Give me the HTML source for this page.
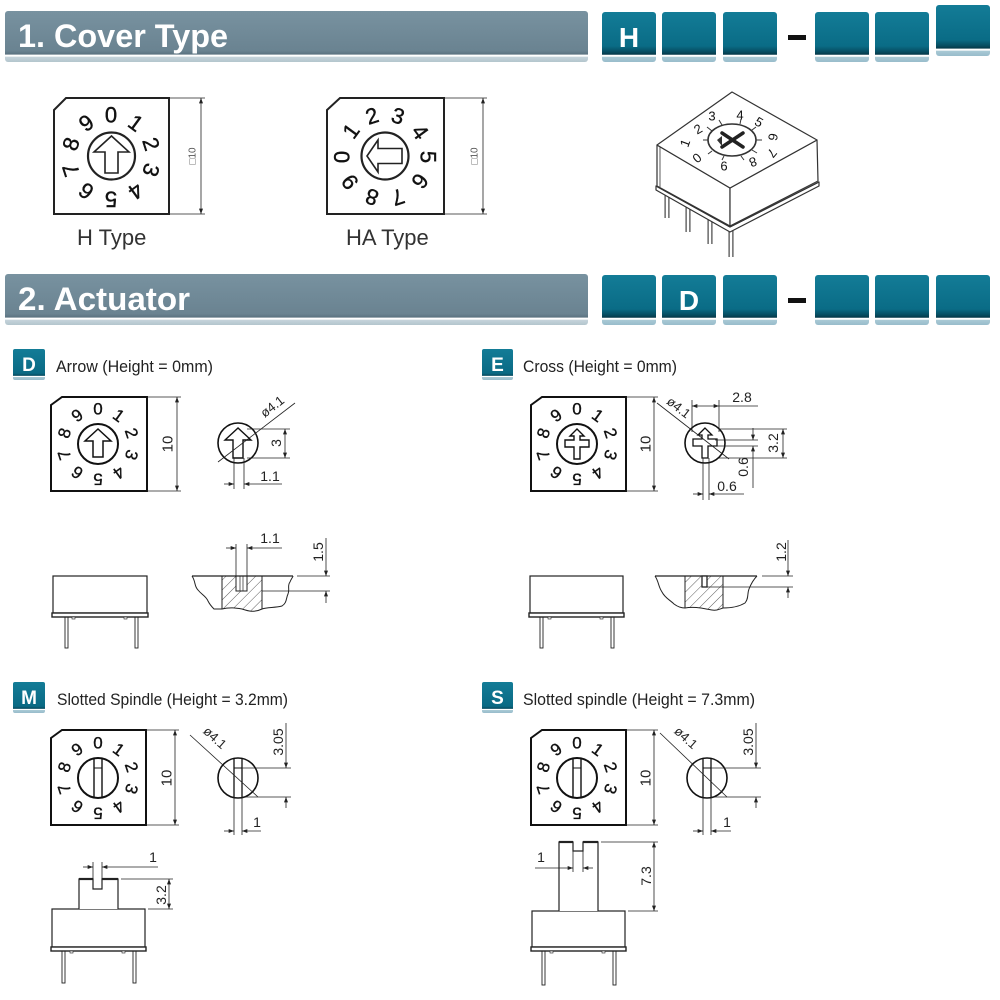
<!DOCTYPE html>
<html><head><meta charset="utf-8">
<style>
html,body{margin:0;padding:0;background:#fff;}
svg{display:block;}
text{font-family:"Liberation Sans",sans-serif;}
</style></head><body>
<svg width="1000" height="1000" viewBox="0 0 1000 1000" xmlns="http://www.w3.org/2000/svg">
<defs>
<linearGradient id="bar" x1="0" y1="0" x2="0" y2="1">
 <stop offset="0" stop-color="#7892a0"/><stop offset="0.78" stop-color="#6a8391"/><stop offset="0.85" stop-color="#5b7280"/>
 <stop offset="0.86" stop-color="#ffffff"/><stop offset="0.89" stop-color="#ffffff"/><stop offset="0.9" stop-color="#c6d4db"/><stop offset="1" stop-color="#b3c5cd"/>
</linearGradient>
<linearGradient id="box" x1="0" y1="0" x2="0" y2="1">
 <stop offset="0" stop-color="#137c97"/><stop offset="0.68" stop-color="#0a6c86"/><stop offset="0.8" stop-color="#064c60"/><stop offset="0.85" stop-color="#053848"/>
 <stop offset="0.86" stop-color="#ffffff"/><stop offset="0.89" stop-color="#ffffff"/><stop offset="0.9" stop-color="#a9c9d5"/><stop offset="1" stop-color="#98bccb"/>
</linearGradient>
<linearGradient id="badge" x1="0" y1="0" x2="0" y2="1">
 <stop offset="0" stop-color="#137c97"/><stop offset="0.78" stop-color="#0a6a84"/><stop offset="0.86" stop-color="#064a5e"/>
 <stop offset="0.87" stop-color="#ffffff"/><stop offset="0.9" stop-color="#ffffff"/><stop offset="0.91" stop-color="#a9c9d5"/><stop offset="1" stop-color="#98bccb"/>
</linearGradient>
<pattern id="hatch" width="7" height="7" patternUnits="userSpaceOnUse" patternTransform="rotate(45)">
 <line x1="0" y1="0" x2="0" y2="7" stroke="#333" stroke-width="0.8"/>
</pattern>
<marker id="ar" viewBox="0 0 8 6" refX="8" refY="3" markerWidth="7" markerHeight="4" orient="auto-start-reverse" markerUnits="userSpaceOnUse">
 <path d="M0,0 L8,3 L0,6 Z" fill="#222"/>
</marker>
</defs>

<!-- ========== HEADER 1 ========== -->
<rect x="5" y="11" width="583" height="51" rx="3" fill="url(#bar)"/>
<text x="18" y="47" font-size="32" font-weight="bold" fill="#fff" textLength="210" lengthAdjust="spacingAndGlyphs">1. Cover Type</text>
<rect x="602" y="12" width="54" height="50" rx="3" fill="url(#box)"/>
<rect x="662" y="12" width="54" height="50" rx="3" fill="url(#box)"/>
<rect x="723" y="12" width="54" height="50" rx="3" fill="url(#box)"/>
<rect x="788" y="35" width="18" height="5" fill="#111"/>
<rect x="815" y="12" width="54" height="50" rx="3" fill="url(#box)"/>
<rect x="875" y="12" width="54" height="50" rx="3" fill="url(#box)"/>
<rect x="936" y="5" width="54" height="51" rx="3" fill="url(#box)"/>
<text x="629" y="47" font-size="28" font-weight="bold" fill="#fff" text-anchor="middle">H</text>

<!-- ========== HEADER 2 ========== -->
<rect x="5" y="274" width="583" height="51" rx="3" fill="url(#bar)"/>
<text x="18" y="310" font-size="32" font-weight="bold" fill="#fff" textLength="172" lengthAdjust="spacingAndGlyphs">2. Actuator</text>
<rect x="602" y="275" width="54" height="50" rx="3" fill="url(#box)"/>
<rect x="662" y="275" width="54" height="50" rx="3" fill="url(#box)"/>
<rect x="723" y="275" width="54" height="50" rx="3" fill="url(#box)"/>
<rect x="788" y="298" width="18" height="5" fill="#111"/>
<rect x="815" y="275" width="54" height="50" rx="3" fill="url(#box)"/>
<rect x="875" y="275" width="54" height="50" rx="3" fill="url(#box)"/>
<rect x="936" y="275" width="54" height="50" rx="3" fill="url(#box)"/>
<text x="689" y="310" font-size="28" font-weight="bold" fill="#fff" text-anchor="middle">D</text>

<!-- ========== COVER TYPE: H ========== -->
<g fill="none" stroke="#222">
 <path d="M54,110 L66,98 L169,98 L169,214 L54,214 Z" stroke-width="2"/>
 <line x1="169" y1="98" x2="205" y2="98" stroke-width="0.7"/>
 <line x1="169" y1="214" x2="205" y2="214" stroke-width="0.7"/>
 <line x1="201" y1="98" x2="201" y2="214" stroke-width="0.8" marker-start="url(#ar)" marker-end="url(#ar)"/>
 <circle cx="111.5" cy="156" r="23.5" stroke-width="2.2"/>
 <path d="M111.5,136 L94,152 L105,152 L105,173 L118,173 L118,152 L129,152 Z" stroke-width="1.6"/>
</g>
<text x="193" y="156" font-size="10" fill="#555" text-anchor="middle" dominant-baseline="central" transform="rotate(-90 193 156)">□10</text>
<g font-size="22" fill="#111" stroke="#111" stroke-width="0.4" text-anchor="middle" dominant-baseline="central">
 <text x="111" y="115">0</text>
 <text x="135.7" y="123" transform="rotate(36 135.7 123)">1</text>
 <text x="151" y="144" transform="rotate(72 151 144)">2</text>
 <text x="151" y="170" transform="rotate(108 151 170)">3</text>
 <text x="135.7" y="191" transform="rotate(144 135.7 191)">4</text>
 <text x="111" y="199" transform="rotate(180 111 199)">5</text>
 <text x="86.3" y="191" transform="rotate(216 86.3 191)">6</text>
 <text x="71" y="170" transform="rotate(252 71 170)">7</text>
 <text x="71" y="144" transform="rotate(288 71 144)">8</text>
 <text x="86.3" y="123" transform="rotate(324 86.3 123)">9</text>
</g>
<text x="77" y="245" font-size="22" fill="#333">H Type</text>

<!-- ========== COVER TYPE: HA ========== -->
<g fill="none" stroke="#222">
 <path d="M327,110 L340,98 L444,98 L444,214 L327,214 Z" stroke-width="2"/>
 <line x1="444" y1="98" x2="487" y2="98" stroke-width="0.7"/>
 <line x1="444" y1="214" x2="487" y2="214" stroke-width="0.7"/>
 <line x1="483" y1="98" x2="483" y2="214" stroke-width="0.8" marker-start="url(#ar)" marker-end="url(#ar)"/>
 <circle cx="385" cy="156" r="23.5" stroke-width="2.2"/>
 <path d="M367,156 L378,140 L378,148.5 L402,148.5 L402,163.5 L378,163.5 L378,172 Z" stroke-width="1.6"/>
</g>
<text x="475" y="156" font-size="10" fill="#555" text-anchor="middle" dominant-baseline="central" transform="rotate(-90 475 156)">□10</text>
<g font-size="22" fill="#111" stroke="#111" stroke-width="0.4" text-anchor="middle" dominant-baseline="central">
 <text x="342" y="157" transform="rotate(-90 342 157)">0</text>
 <text x="351" y="131" transform="rotate(-54 351 131)">1</text>
 <text x="372" y="116" transform="rotate(-18 372 116)">2</text>
 <text x="398" y="116" transform="rotate(18 398 116)">3</text>
 <text x="420" y="132" transform="rotate(54 420 132)">4</text>
 <text x="428" y="157" transform="rotate(90 428 157)">5</text>
 <text x="420" y="181" transform="rotate(126 420 181)">6</text>
 <text x="398" y="197" transform="rotate(162 398 197)">7</text>
 <text x="372" y="197" transform="rotate(198 372 197)">8</text>
 <text x="350" y="182" transform="rotate(234 350 182)">9</text>
</g>
<text x="346" y="245" font-size="22" fill="#333">HA Type</text>

<!-- ========== 3D VIEW ========== -->
<g stroke="#333" stroke-width="1.2" fill="#fff" stroke-linejoin="round">
 <line x1="667" y1="190" x2="667" y2="218" stroke-width="5" stroke="#444"/>
 <line x1="667" y1="190" x2="667" y2="218" stroke-width="2.6" stroke="#fff"/>
 <line x1="688" y1="200" x2="688" y2="232" stroke-width="5" stroke="#444"/>
 <line x1="688" y1="200" x2="688" y2="232" stroke-width="2.6" stroke="#fff"/>
 <line x1="710" y1="214" x2="710" y2="244" stroke-width="5" stroke="#444"/>
 <line x1="710" y1="214" x2="710" y2="244" stroke-width="2.6" stroke="#fff"/>
 <line x1="731" y1="226" x2="731" y2="257" stroke-width="5" stroke="#444"/>
 <line x1="731" y1="226" x2="731" y2="257" stroke-width="2.6" stroke="#fff"/>
 <polygon points="656,186 730,227 819,182 819,186 730,232 656,190"/>
 <line x1="656" y1="186" x2="730" y2="227"/>
 <line x1="730" y1="227" x2="819" y2="182"/>
 <polygon points="657,145 730,188 730,226 657,186"/>
 <polygon points="730,188 817,140 818,181 730,226"/>
 <line x1="660" y1="147" x2="660" y2="187" stroke-width="0.8"/>
 <polygon points="732,92 817,140 730,188 657,145"/>
 <ellipse cx="732" cy="140" rx="24" ry="16" stroke-width="1.6"/>
</g>
<g stroke="#222" stroke-width="3.5" stroke-linecap="round">
 <line x1="722" y1="133" x2="743" y2="147"/>
 <line x1="743" y1="133" x2="722" y2="147"/>
</g>
<path d="M717,140 L722,136 L722,146 Z" fill="#333"/>
<g stroke="#333" stroke-width="1">
 <line x1="708" y1="140" x2="703" y2="140"/><line x1="712" y1="131" x2="707" y2="127"/>
 <line x1="722" y1="125" x2="719" y2="120"/><line x1="740" y1="124" x2="741" y2="119"/>
 <line x1="752" y1="130" x2="756" y2="127"/><line x1="756" y1="140" x2="762" y2="140"/>
 <line x1="752" y1="150" x2="757" y2="153"/><line x1="741" y1="156" x2="744" y2="160"/>
 <line x1="724" y1="156" x2="722" y2="160"/><line x1="712" y1="151" x2="708" y2="154"/>
</g>
<g font-size="13" fill="#111" text-anchor="middle" dominant-baseline="central">
 <text x="685" y="143" transform="rotate(-70 685 143)">1</text>
 <text x="698" y="129" transform="rotate(-30 698 129)">2</text>
 <text x="712" y="116">3</text>
 <text x="740" y="115">4</text>
 <text x="759" y="122" transform="rotate(30 759 122)">5</text>
 <text x="773" y="137" transform="rotate(100 773 137)">6</text>
 <text x="772" y="153" transform="rotate(130 772 153)">7</text>
 <text x="753" y="162" transform="rotate(160 753 162)">8</text>
 <text x="724" y="166">6</text>
 <text x="697" y="158" transform="rotate(-40 697 158)">0</text>
</g>

<!-- ========== BADGES + LABELS ========== -->
<rect x="13" y="349" width="32" height="31" rx="2" fill="url(#badge)"/>
<text x="29" y="371" font-size="19" font-weight="bold" fill="#fff" text-anchor="middle">D</text>
<text x="56" y="372" font-size="17" fill="#222" textLength="157" lengthAdjust="spacingAndGlyphs">Arrow (Height = 0mm)</text>

<rect x="482" y="349" width="31" height="31" rx="2" fill="url(#badge)"/>
<text x="497.5" y="371" font-size="19" font-weight="bold" fill="#fff" text-anchor="middle">E</text>
<text x="523" y="372" font-size="17" fill="#222" textLength="154" lengthAdjust="spacingAndGlyphs">Cross (Height = 0mm)</text>

<rect x="13" y="682" width="32" height="31" rx="2" fill="url(#badge)"/>
<text x="29" y="704" font-size="19" font-weight="bold" fill="#fff" text-anchor="middle">M</text>
<text x="57" y="705" font-size="17" fill="#222" textLength="231" lengthAdjust="spacingAndGlyphs">Slotted Spindle (Height = 3.2mm)</text>

<rect x="482" y="682" width="31" height="31" rx="2" fill="url(#badge)"/>
<text x="497.5" y="704" font-size="19" font-weight="bold" fill="#fff" text-anchor="middle">S</text>
<text x="523" y="705" font-size="17" fill="#222" textLength="232" lengthAdjust="spacingAndGlyphs">Slotted spindle (Height = 7.3mm)</text>

<!-- ========== DIAL: D ========== -->
<g transform="translate(98,444)">
 <g fill="none" stroke="#111">
  <path d="M-47,-39 L-36,-47 L49,-47 L49,47 L-47,47 Z" stroke-width="2"/>
  <circle r="20" stroke-width="2"/>
  <path d="M0,-15 L-13,-3 L-5,-3 L-5,13 L5,13 L5,-3 L13,-3 Z" stroke-width="1.5"/>
 </g>
 <g font-size="17" fill="#111" stroke="#111" stroke-width="0.35" text-anchor="middle" dominant-baseline="central">
  <text x="0" y="-35">0</text>
  <text x="20.6" y="-28.3" transform="rotate(36 20.6 -28.3)">1</text>
  <text x="33.3" y="-10.8" transform="rotate(72 33.3 -10.8)">2</text>
  <text x="33.3" y="10.8" transform="rotate(108 33.3 10.8)">3</text>
  <text x="20.6" y="28.3" transform="rotate(144 20.6 28.3)">4</text>
  <text x="0" y="35" transform="rotate(180 0 35)">5</text>
  <text x="-20.6" y="28.3" transform="rotate(216 -20.6 28.3)">6</text>
  <text x="-33.3" y="10.8" transform="rotate(252 -33.3 10.8)">7</text>
  <text x="-33.3" y="-10.8" transform="rotate(288 -33.3 -10.8)">8</text>
  <text x="-20.6" y="-28.3" transform="rotate(324 -20.6 -28.3)">9</text>
 </g>
</g>
<g stroke="#222" stroke-width="0.8">
 <line x1="147" y1="397" x2="181" y2="397"/><line x1="147" y1="491" x2="181" y2="491"/>
 <line x1="177" y1="397" x2="177" y2="491" marker-start="url(#ar)" marker-end="url(#ar)"/>
</g>
<text x="168" y="444" font-size="15" fill="#222" text-anchor="middle" dominant-baseline="central" transform="rotate(-90 168 444)">10</text>

<!-- D right view -->
<g fill="none" stroke="#111">
 <circle cx="238" cy="443" r="20" stroke-width="1.6"/>
 <path d="M238,428 L225,440 L233,440 L233,458 L243,458 L243,440 L251,440 Z" stroke-width="1.4"/>
</g>
<g stroke="#222" stroke-width="0.8" fill="none">
 <line x1="218" y1="462" x2="295" y2="403"/>
 <line x1="247" y1="429" x2="290" y2="429"/><line x1="247" y1="458" x2="290" y2="458"/>
 <line x1="285" y1="429" x2="285" y2="458" marker-start="url(#ar)" marker-end="url(#ar)"/>
 <line x1="234" y1="458" x2="234" y2="489"/><line x1="244" y1="458" x2="244" y2="489"/>
 <line x1="224" y1="484" x2="234" y2="484" marker-end="url(#ar)"/>
 <line x1="282" y1="484" x2="244" y2="484" marker-end="url(#ar)"/>
</g>
<text x="275" y="410" font-size="13" fill="#222" text-anchor="middle" transform="rotate(-38 275 410)">ø4.1</text>
<text x="276" y="443" font-size="14" fill="#222" text-anchor="middle" dominant-baseline="central" transform="rotate(-90 276 443)">3</text>
<text x="270" y="481" font-size="14" fill="#222" text-anchor="middle">1.1</text>

<!-- ========== DIAL: E ========== -->
<g transform="translate(577,444)">
 <g fill="none" stroke="#111">
  <path d="M-46,-39 L-35,-47 L49,-47 L49,47 L-46,47 Z" stroke-width="2"/>
  <circle r="20" stroke-width="2"/>
  <path d="M0,-15 L-7,-8 L-3,-8 L-3,-4 L-12,-4 L-12,3 L-3,3 L-3,15 L3,15 L3,3 L12,3 L12,-4 L3,-4 L3,-8 L7,-8 Z" stroke-width="1.4"/>
 </g>
 <g font-size="17" fill="#111" stroke="#111" stroke-width="0.35" text-anchor="middle" dominant-baseline="central">
  <text x="0" y="-35">0</text>
  <text x="20.6" y="-28.3" transform="rotate(36 20.6 -28.3)">1</text>
  <text x="33.3" y="-10.8" transform="rotate(72 33.3 -10.8)">2</text>
  <text x="33.3" y="10.8" transform="rotate(108 33.3 10.8)">3</text>
  <text x="20.6" y="28.3" transform="rotate(144 20.6 28.3)">4</text>
  <text x="0" y="35" transform="rotate(180 0 35)">5</text>
  <text x="-20.6" y="28.3" transform="rotate(216 -20.6 28.3)">6</text>
  <text x="-33.3" y="10.8" transform="rotate(252 -33.3 10.8)">7</text>
  <text x="-33.3" y="-10.8" transform="rotate(288 -33.3 -10.8)">8</text>
  <text x="-20.6" y="-28.3" transform="rotate(324 -20.6 -28.3)">9</text>
 </g>
</g>
<g stroke="#222" stroke-width="0.8">
 <line x1="626" y1="397" x2="658" y2="397"/><line x1="626" y1="491" x2="658" y2="491"/>
 <line x1="654" y1="397" x2="654" y2="491" marker-start="url(#ar)" marker-end="url(#ar)"/>
</g>
<text x="646" y="444" font-size="15" fill="#222" text-anchor="middle" dominant-baseline="central" transform="rotate(-90 646 444)">10</text>

<!-- E right view -->
<g fill="none" stroke="#111">
 <circle cx="705" cy="443" r="20" stroke-width="1.6"/>
 <path d="M705,428 L698,435 L702,435 L702,439 L693,439 L693,446 L702,446 L702,458 L708,458 L708,446 L717,446 L717,439 L708,439 L708,435 L712,435 Z" stroke-width="1.3"/>
</g>
<g stroke="#222" stroke-width="0.8" fill="none">
 <line x1="657" y1="403" x2="729" y2="459"/>
 <line x1="692" y1="400" x2="692" y2="432"/><line x1="719" y1="400" x2="719" y2="432"/>
 <line x1="692" y1="406" x2="719" y2="406" marker-start="url(#ar)" marker-end="url(#ar)"/>
 <line x1="719" y1="406" x2="758" y2="406"/>
 <line x1="719" y1="429" x2="787" y2="429"/><line x1="719" y1="458" x2="787" y2="458"/>
 <line x1="783" y1="429" x2="783" y2="458" marker-start="url(#ar)" marker-end="url(#ar)"/>
 <line x1="715" y1="440" x2="758" y2="440"/><line x1="715" y1="446" x2="758" y2="446"/>
 <line x1="753" y1="428" x2="753" y2="440" marker-end="url(#ar)"/>
 <line x1="753" y1="488" x2="753" y2="446" marker-end="url(#ar)"/>
 <line x1="703" y1="458" x2="703" y2="500"/><line x1="709" y1="458" x2="709" y2="500"/>
 <line x1="693" y1="494" x2="703" y2="494" marker-end="url(#ar)"/>
 <line x1="744" y1="494" x2="709" y2="494" marker-end="url(#ar)"/>
</g>
<text x="676" y="411" font-size="13" fill="#222" text-anchor="middle" transform="rotate(38 676 411)">ø4.1</text>
<text x="742" y="402" font-size="14" fill="#222" text-anchor="middle">2.8</text>
<text x="773" y="443" font-size="14" fill="#222" text-anchor="middle" dominant-baseline="central" transform="rotate(-90 773 443)">3.2</text>
<text x="743" y="467" font-size="14" fill="#222" text-anchor="middle" dominant-baseline="central" transform="rotate(-90 743 467)">0.6</text>
<text x="727" y="491" font-size="14" fill="#222" text-anchor="middle">0.6</text>

<!-- ========== D SIDE VIEWS ========== -->
<g fill="#fff" stroke="#222" stroke-width="1.2">
 <rect x="65" y="617" width="3" height="31" stroke-width="0.9"/>
 <rect x="135" y="617" width="3" height="31" stroke-width="0.9"/>
 <rect x="53" y="576" width="94" height="37"/>
 <rect x="52" y="613" width="96" height="4" stroke-width="1.4"/>
 <rect x="72" y="617" width="3" height="2" stroke-width="0.6"/>
 <rect x="124" y="617" width="3" height="2" stroke-width="0.6"/>
</g>
<!-- D cross-section -->
<path d="M222,576 L236,576 L236,591 L247,591 L247,576 L262,576 L262,609 C254,613 248,611 242,609 C236,608 230,607 222,609 Z" fill="url(#hatch)" stroke="none"/>
<g fill="none" stroke="#222" stroke-width="1">
 <line x1="192" y1="576" x2="293" y2="576" stroke-width="1.2"/>
 <path d="M192,576 C196,582 194,586 198,590 C202,595 206,596 208,601 C210,605 212,607 214,609 L222,609 C230,607 236,608 242,609 C248,611 254,613 262,609 C268,607 274,608 282,606 C287,603 286,598 288,594 C290,589 287,586 290,582 C291,579 293,577 293,576"/>
 <line x1="222" y1="576" x2="222" y2="609"/>
 <line x1="262" y1="576" x2="262" y2="609"/>
 <rect x="236" y="576" width="11" height="15"/>
 <line x1="240" y1="576" x2="240" y2="591" stroke-width="0.7"/>
 <line x1="243" y1="576" x2="243" y2="591" stroke-width="0.7"/>
</g>
<g stroke="#222" stroke-width="0.8" fill="none">
 <line x1="236" y1="544" x2="236" y2="576"/><line x1="247" y1="544" x2="247" y2="576"/>
 <line x1="226" y1="548" x2="236" y2="548" marker-end="url(#ar)"/>
 <line x1="282" y1="548" x2="247" y2="548" marker-end="url(#ar)"/>
 <line x1="297" y1="576" x2="330" y2="576"/>
 <line x1="262" y1="591" x2="330" y2="591"/>
 <line x1="326" y1="538" x2="326" y2="576" marker-end="url(#ar)"/>
 <line x1="326" y1="603" x2="326" y2="591" marker-end="url(#ar)"/>
</g>
<text x="270" y="543" font-size="14" fill="#222" text-anchor="middle">1.1</text>
<text x="318" y="552" font-size="14" fill="#222" text-anchor="middle" dominant-baseline="central" transform="rotate(-90 318 552)">1.5</text>

<!-- ========== E SIDE VIEWS ========== -->
<g fill="#fff" stroke="#222" stroke-width="1.2">
 <rect x="540" y="617" width="3" height="31" stroke-width="0.9"/>
 <rect x="611" y="617" width="3" height="31" stroke-width="0.9"/>
 <rect x="530" y="576" width="93" height="37"/>
 <rect x="529" y="613" width="95" height="4" stroke-width="1.4"/>
 <rect x="548" y="617" width="3" height="2" stroke-width="0.6"/>
 <rect x="600" y="617" width="3" height="2" stroke-width="0.6"/>
</g>
<path d="M685,576 L702,576 L702,587 L707,587 L707,576 L723,576 L723,608 C720,609 717,611 712,610 C705,609 695,606 685,608 Z" fill="url(#hatch)" stroke="none"/>
<g fill="none" stroke="#222" stroke-width="1">
 <line x1="655" y1="576" x2="757" y2="576" stroke-width="1.2"/>
 <path d="M655,576 C659,582 658,586 662,592 C665,598 670,600 674,604 C678,607 682,608 685,608 C695,606 705,609 712,610 C717,611 720,609 723,608 C732,608 740,606 745,603 C749,598 747,594 749,589 C751,584 753,580 757,576"/>
 <line x1="685" y1="576" x2="685" y2="608"/>
 <line x1="723" y1="576" x2="723" y2="608"/>
 <rect x="702" y="576" width="5" height="11" fill="#fff" stroke-width="1.3"/>
</g>
<g stroke="#222" stroke-width="0.8" fill="none">
 <line x1="762" y1="576" x2="793" y2="576"/>
 <line x1="707" y1="587" x2="793" y2="587"/>
 <line x1="788" y1="540" x2="788" y2="576" marker-end="url(#ar)"/>
 <line x1="788" y1="598" x2="788" y2="587" marker-end="url(#ar)"/>
</g>
<text x="781" y="552" font-size="14" fill="#222" text-anchor="middle" dominant-baseline="central" transform="rotate(-90 781 552)">1.2</text>

<!-- ========== DIAL: M ========== -->
<g transform="translate(98,778)">
 <g fill="none" stroke="#111">
  <path d="M-47,-40 L-36,-48 L48,-48 L48,47 L-47,47 Z" stroke-width="2"/>
  <circle r="20" stroke-width="2"/>
  <line x1="-4" y1="-19.5" x2="-4" y2="19.5" stroke-width="1.4"/>
  <line x1="4" y1="-19.5" x2="4" y2="19.5" stroke-width="1.4"/>
  <line x1="-4" y1="-10" x2="4" y2="-10" stroke-width="1"/>
 </g>
 <g font-size="17" fill="#111" stroke="#111" stroke-width="0.35" text-anchor="middle" dominant-baseline="central">
  <text x="0" y="-35">0</text>
  <text x="20.6" y="-28.3" transform="rotate(36 20.6 -28.3)">1</text>
  <text x="33.3" y="-10.8" transform="rotate(72 33.3 -10.8)">2</text>
  <text x="33.3" y="10.8" transform="rotate(108 33.3 10.8)">3</text>
  <text x="20.6" y="28.3" transform="rotate(144 20.6 28.3)">4</text>
  <text x="0" y="35" transform="rotate(180 0 35)">5</text>
  <text x="-20.6" y="28.3" transform="rotate(216 -20.6 28.3)">6</text>
  <text x="-33.3" y="10.8" transform="rotate(252 -33.3 10.8)">7</text>
  <text x="-33.3" y="-10.8" transform="rotate(288 -33.3 -10.8)">8</text>
  <text x="-20.6" y="-28.3" transform="rotate(324 -20.6 -28.3)">9</text>
 </g>
</g>
<g stroke="#222" stroke-width="0.8">
 <line x1="146" y1="730" x2="179" y2="730"/><line x1="146" y1="825" x2="179" y2="825"/>
 <line x1="175" y1="730" x2="175" y2="825" marker-start="url(#ar)" marker-end="url(#ar)"/>
</g>
<text x="167" y="778" font-size="15" fill="#222" text-anchor="middle" dominant-baseline="central" transform="rotate(-90 167 778)">10</text>

<!-- M right view -->
<g fill="none" stroke="#111">
 <circle cx="238" cy="778" r="20" stroke-width="1.6"/>
 <line x1="234" y1="759" x2="234" y2="797" stroke-width="1.3"/>
 <line x1="242" y1="759" x2="242" y2="797" stroke-width="1.3"/>
 <line x1="234" y1="768" x2="242" y2="768" stroke-width="1"/>
</g>
<g stroke="#222" stroke-width="0.8" fill="none">
 <line x1="190" y1="735" x2="258" y2="797"/>
 <line x1="242" y1="768" x2="291" y2="768"/><line x1="242" y1="797" x2="291" y2="797"/>
 <line x1="286" y1="723" x2="286" y2="768" marker-end="url(#ar)"/>
 <line x1="286" y1="808" x2="286" y2="797" marker-end="url(#ar)"/>
 <line x1="234" y1="797" x2="234" y2="835"/><line x1="242" y1="797" x2="242" y2="835"/>
 <line x1="224" y1="831" x2="234" y2="831" marker-end="url(#ar)"/>
 <line x1="261" y1="831" x2="242" y2="831" marker-end="url(#ar)"/>
</g>
<text x="212" y="741" font-size="13" fill="#222" text-anchor="middle" transform="rotate(42 212 741)">ø4.1</text>
<text x="278" y="742" font-size="14" fill="#222" text-anchor="middle" dominant-baseline="central" transform="rotate(-90 278 742)">3.05</text>
<text x="257" y="827" font-size="14" fill="#222" text-anchor="middle">1</text>

<!-- ========== DIAL: S ========== -->
<g transform="translate(577,778)">
 <g fill="none" stroke="#111">
  <path d="M-46,-40 L-35,-48 L49,-48 L49,47 L-46,47 Z" stroke-width="2"/>
  <circle r="20" stroke-width="2"/>
  <line x1="-4" y1="-19.5" x2="-4" y2="19.5" stroke-width="1.4"/>
  <line x1="4" y1="-19.5" x2="4" y2="19.5" stroke-width="1.4"/>
  <line x1="-4" y1="-10" x2="4" y2="-10" stroke-width="1"/>
 </g>
 <g font-size="17" fill="#111" stroke="#111" stroke-width="0.35" text-anchor="middle" dominant-baseline="central">
  <text x="0" y="-35">0</text>
  <text x="20.6" y="-28.3" transform="rotate(36 20.6 -28.3)">1</text>
  <text x="33.3" y="-10.8" transform="rotate(72 33.3 -10.8)">2</text>
  <text x="33.3" y="10.8" transform="rotate(108 33.3 10.8)">3</text>
  <text x="20.6" y="28.3" transform="rotate(144 20.6 28.3)">4</text>
  <text x="0" y="35" transform="rotate(180 0 35)">5</text>
  <text x="-20.6" y="28.3" transform="rotate(216 -20.6 28.3)">6</text>
  <text x="-33.3" y="10.8" transform="rotate(252 -33.3 10.8)">7</text>
  <text x="-33.3" y="-10.8" transform="rotate(288 -33.3 -10.8)">8</text>
  <text x="-20.6" y="-28.3" transform="rotate(324 -20.6 -28.3)">9</text>
 </g>
</g>
<g stroke="#222" stroke-width="0.8">
 <line x1="626" y1="730" x2="658" y2="730"/><line x1="626" y1="825" x2="658" y2="825"/>
 <line x1="654" y1="730" x2="654" y2="825" marker-start="url(#ar)" marker-end="url(#ar)"/>
</g>
<text x="646" y="778" font-size="15" fill="#222" text-anchor="middle" dominant-baseline="central" transform="rotate(-90 646 778)">10</text>

<!-- S right view -->
<g fill="none" stroke="#111">
 <circle cx="707" cy="778" r="20" stroke-width="1.6"/>
 <line x1="703" y1="759" x2="703" y2="797" stroke-width="1.3"/>
 <line x1="711" y1="759" x2="711" y2="797" stroke-width="1.3"/>
 <line x1="703" y1="768" x2="711" y2="768" stroke-width="1"/>
</g>
<g stroke="#222" stroke-width="0.8" fill="none">
 <line x1="660" y1="733" x2="727" y2="797"/>
 <line x1="711" y1="768" x2="761" y2="768"/><line x1="711" y1="797" x2="761" y2="797"/>
 <line x1="756" y1="723" x2="756" y2="768" marker-end="url(#ar)"/>
 <line x1="756" y1="808" x2="756" y2="797" marker-end="url(#ar)"/>
 <line x1="703" y1="797" x2="703" y2="835"/><line x1="711" y1="797" x2="711" y2="835"/>
 <line x1="693" y1="831" x2="703" y2="831" marker-end="url(#ar)"/>
 <line x1="731" y1="831" x2="711" y2="831" marker-end="url(#ar)"/>
</g>
<text x="683" y="741" font-size="13" fill="#222" text-anchor="middle" transform="rotate(42 683 741)">ø4.1</text>
<text x="748" y="742" font-size="14" fill="#222" text-anchor="middle" dominant-baseline="central" transform="rotate(-90 748 742)">3.05</text>
<text x="727" y="827" font-size="14" fill="#222" text-anchor="middle">1</text>

<!-- ========== M SIDE VIEW ========== -->
<g fill="#fff" stroke="#222" stroke-width="1.2">
 <rect x="62" y="951" width="3" height="32" stroke-width="0.9"/>
 <rect x="133" y="951" width="3" height="32" stroke-width="0.9"/>
 <rect x="52" y="909" width="93" height="38"/>
 <rect x="51" y="947" width="95" height="4" stroke-width="1.4"/>
 <rect x="70" y="951" width="3" height="2" stroke-width="0.6"/>
 <rect x="122" y="951" width="3" height="2" stroke-width="0.6"/>
 <path d="M79,909 L79,879 L93,879 L93,889 L102,889 L102,879 L118,879 L118,909"/>
 <line x1="79" y1="879" x2="93" y2="879" stroke-width="2.2"/>
 <line x1="102" y1="879" x2="118" y2="879" stroke-width="2.2"/>
</g>
<g stroke="#222" stroke-width="0.8" fill="none">
 <line x1="93" y1="862" x2="93" y2="879"/><line x1="102" y1="862" x2="102" y2="879"/>
 <line x1="83" y1="867" x2="93" y2="867" marker-end="url(#ar)"/>
 <line x1="158" y1="867" x2="102" y2="867" marker-end="url(#ar)"/>
 <line x1="121" y1="879" x2="173" y2="879"/>
 <line x1="148" y1="909" x2="173" y2="909"/>
 <line x1="169" y1="879" x2="169" y2="909" marker-start="url(#ar)" marker-end="url(#ar)"/>
</g>
<text x="153" y="862" font-size="14" fill="#222" text-anchor="middle">1</text>
<text x="161" y="895" font-size="14" fill="#222" text-anchor="middle" dominant-baseline="central" transform="rotate(-90 161 895)">3.2</text>

<!-- ========== S SIDE VIEW ========== -->
<g fill="#fff" stroke="#222" stroke-width="1.2">
 <rect x="542" y="951" width="3" height="34" stroke-width="0.9"/>
 <rect x="613" y="951" width="3" height="34" stroke-width="0.9"/>
 <rect x="532" y="911" width="93" height="36"/>
 <rect x="531" y="947" width="95" height="4" stroke-width="1.4"/>
 <rect x="550" y="951" width="3" height="2" stroke-width="0.6"/>
 <rect x="602" y="951" width="3" height="2" stroke-width="0.6"/>
 <path d="M559,911 L559,842 L573,842 L573,851 L583,851 L583,842 L598,842 L598,911"/>
 <line x1="559" y1="842" x2="573" y2="842" stroke-width="2.2"/>
 <line x1="583" y1="842" x2="598" y2="842" stroke-width="2.2"/>
</g>
<g stroke="#222" stroke-width="0.8" fill="none">
 <line x1="573" y1="851" x2="573" y2="872"/><line x1="583" y1="851" x2="583" y2="872"/>
 <line x1="535" y1="868" x2="573" y2="868" marker-end="url(#ar)"/>
 <line x1="593" y1="868" x2="583" y2="868" marker-end="url(#ar)"/>
 <line x1="601" y1="842" x2="658" y2="842"/>
 <line x1="628" y1="911" x2="658" y2="911"/>
 <line x1="654" y1="842" x2="654" y2="911" marker-start="url(#ar)" marker-end="url(#ar)"/>
</g>
<text x="541" y="862" font-size="14" fill="#222" text-anchor="middle">1</text>
<text x="646" y="876" font-size="14" fill="#222" text-anchor="middle" dominant-baseline="central" transform="rotate(-90 646 876)">7.3</text>
</svg>
</body></html>
